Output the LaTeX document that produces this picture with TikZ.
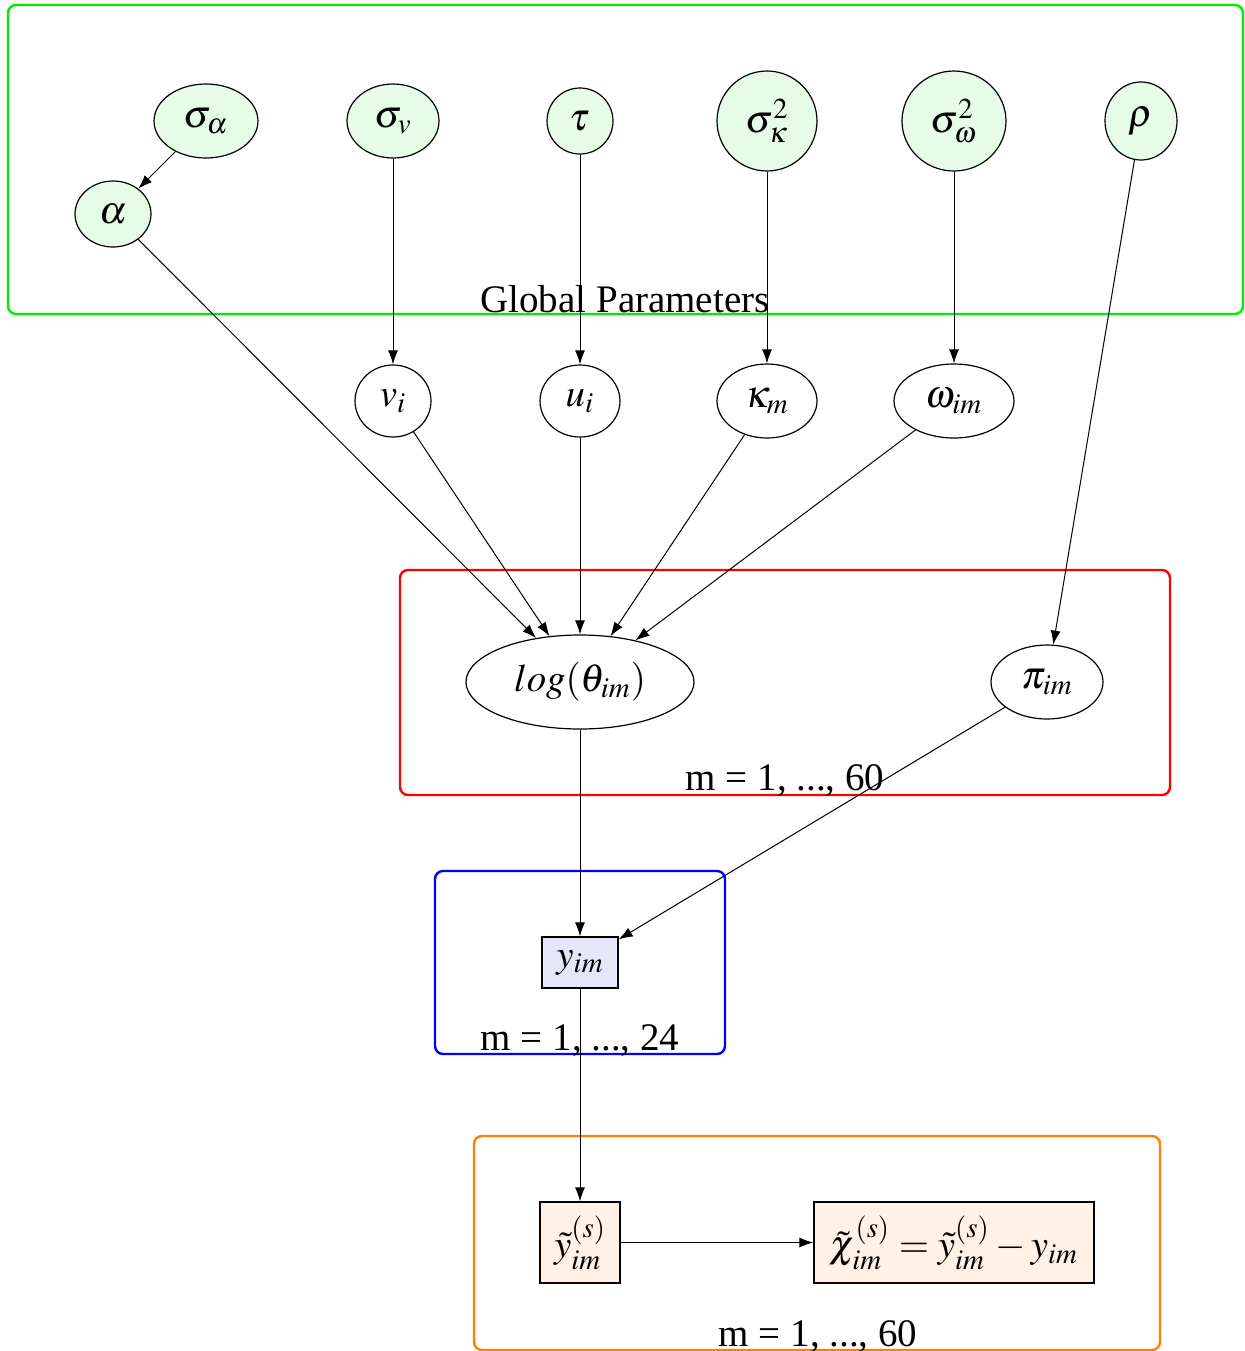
\documentclass[tikz,border=0pt]{standalone}
\usepackage{mathptmx}
\usepackage[no-math]{fontspec}
\setmainfont{Liberation Serif}
\usetikzlibrary{shapes.geometric, arrows.meta}
\definecolor{plategreen}{RGB}{0,235,0}
\definecolor{plateorange}{RGB}{255,128,0}
\definecolor{paramfill}{RGB}{230,252,230}
\definecolor{obsfill}{RGB}{230,230,250}
\definecolor{simfill}{RGB}{255,241,230}

\begin{document}
\begin{tikzpicture}[x=0.5pt, y=-0.5pt, font=\fontsize{19.5}{23}\selectfont,
    param/.style={ellipse, draw, fill=paramfill, inner sep=0pt, line width=0.6pt},
    latent/.style={ellipse, draw, inner sep=0pt, line width=0.6pt},
    obs/.style={rectangle, draw, inner sep=0pt, line width=0.6pt},
    plate/.style={rounded corners=4pt, line width=1.2pt},
    platelabel/.style={anchor=base, inner sep=0pt},
    edge/.style={-{Latex[length=7pt, width=5pt]}, line width=0.5pt}]
        \useasboundingbox (0, 0) rectangle (1244, 1351);

        % plates
        \draw[plate, plategreen] (8, 5) rectangle (1243, 314);
        \draw[plate, red] (400, 570) rectangle (1170, 795);
        \draw[plate, blue] (435, 871) rectangle (725, 1054);
        \draw[plate, plateorange] (474, 1136) rectangle (1160, 1350);

        % global parameters
        \node[param, minimum width=52pt, minimum height=37pt] (sigalpha) at (206, 121) {$\sigma_\alpha$};
        \node[param, minimum width=38pt, minimum height=33pt] (alpha) at (113, 214) {$\alpha$};
        \node[param, minimum width=46pt, minimum height=37pt] (sigv) at (393, 121) {$\sigma_v$};
        \node[param, minimum width=33pt, minimum height=33pt] (tau) at (580, 121) {$\tau$};
        \node[param, minimum width=50pt, minimum height=50pt] (sigkappa) at (767, 121) {$\sigma^2_\kappa$};
        \node[param, minimum width=52pt, minimum height=50pt] (sigomega) at (954, 121) {$\sigma^2_\omega$};
        \node[param, minimum width=36pt, minimum height=39pt] (rho) at (1141, 121) {$\rho$};
        \node[platelabel] (globallabel) at (625, 312) {Global Parameters};

        %%%

        \node[latent, minimum width=38pt, minimum height=36pt] (v) at (393, 401) {$v_i$};
        \node[latent, minimum width=40pt, minimum height=36pt] (u) at (580, 401) {$u_i$};
        \node[latent, minimum width=50pt, minimum height=37pt] (kappa) at (767, 401) {$\kappa_m$};
        \node[latent, minimum width=60pt, minimum height=37pt] (omega) at (954, 401) {$\omega_{im}$};

        %%%

        \node[latent, minimum width=114pt, minimum height=47pt] (logtheta) at (580, 682) {$log(\theta_{im})$};
        \node[latent, minimum width=56pt, minimum height=37pt] (pi) at (1047, 682) {$\pi_{im}$};
        \node[platelabel] (redlabel) at (785, 790) {m = 1, ..., 60};

        \node[obs, fill=obsfill, minimum width=38pt, minimum height=25.5pt] (y) at (580, 962.5) {$y_{im}$};
        \node[platelabel] (bluelabel) at (580, 1050) {m = 1, ..., 24};

        \node[obs, fill=simfill, minimum width=40pt, minimum height=40.5pt] (ysim) at (580, 1242.5) {$\tilde{y}^{(s)}_{im}$};
        \node[obs, fill=simfill, minimum width=140pt, minimum height=40.5pt] (chi) at (954, 1242.5) {$\tilde{\chi}^{(s)}_{im} = \tilde{y}^{(s)}_{im} - y_{im}$};
        \node[platelabel] (orangelabel) at (818, 1346) {m = 1, ..., 60};

        % edges
        \draw[edge] (sigalpha) -- (alpha);
        \draw[edge] (sigv) -- (v);
        \draw[edge] (tau) -- (u);
        \draw[edge] (sigkappa) -- (kappa);
        \draw[edge] (sigomega) -- (omega);
        \draw[edge] (rho) -- (pi);

        \draw[edge] (alpha) -- (logtheta);
        \draw[edge] (v) -- (logtheta);
        \draw[edge] (u) -- (logtheta);
        \draw[edge] (kappa) -- (logtheta);
        \draw[edge] (omega) -- (logtheta);

        \draw[edge] (logtheta) -- (y);
        \draw[edge] (pi) -- (y);
        \draw[edge] (y) -- (ysim);
        \draw[edge] (ysim) -- (chi);
    \end{tikzpicture}
\end{document}
